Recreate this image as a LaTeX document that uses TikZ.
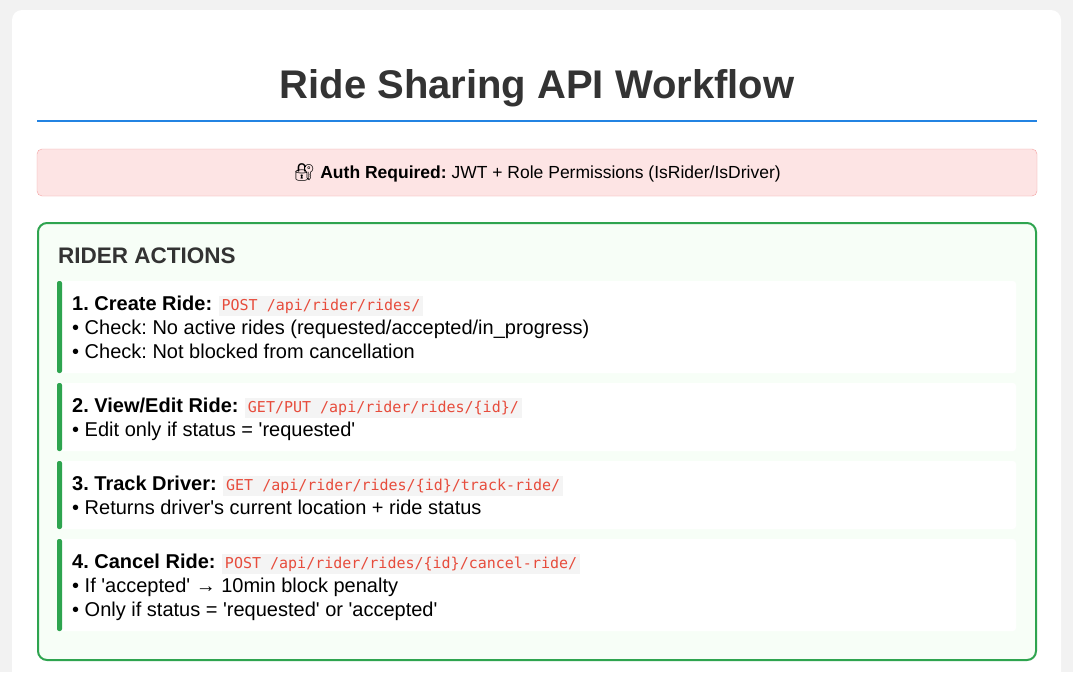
\documentclass[tikz,border=0pt]{standalone}
\usepackage{fontspec}
\setmainfont{Liberation Sans}
\setmonofont{DejaVu Sans Mono}
\newfontfamily\emojifont{Noto Emoji}
\usetikzlibrary{positioning}
\frenchspacing
\newcommand{\sq}{\textquotesingle}
\definecolor{pagegray}{HTML}{F2F2F2}
\definecolor{titletext}{HTML}{333333}
\definecolor{lineblue}{HTML}{2383E2}
\definecolor{authfill}{HTML}{FDE4E4}
\definecolor{authline}{HTML}{F4A3A3}
\definecolor{riderline}{HTML}{2EA44F}
\definecolor{riderfill}{HTML}{F7FEF7}
\definecolor{codered}{HTML}{E74C3C}
\definecolor{codefill}{HTML}{F4F4F4}
\tikzset{
  body/.style={anchor=base west, inner sep=0pt, font=\fontsize{20}{23}\selectfont},
  steptitle/.style={body, font=\fontsize{20}{23}\selectfont\bfseries},
  endpoint/.style={anchor=base west, fill=codefill, text=codered, inner xsep=3pt, inner ysep=2.5pt,
    font=\ttfamily\fontsize{15}{17}\selectfont},
  stepbox/.style={fill=white},
  stepbar/.style={fill=riderline}
}
\begin{document}
\begin{tikzpicture}[x=1pt,y=-1pt]
\useasboundingbox (0,0) rectangle (1073,672);
\fill[pagegray] (0,0) rectangle (1073,672);
\fill[white,rounded corners=10pt] (12,10) rectangle (1061,700);

% title
\node[font=\fontsize{40}{46}\selectfont\bfseries, text=titletext] (title) at (537,88) {Ride Sharing API Workflow};
\draw[lineblue, line width=2pt] (37,121) -- (1037,121);

% auth
\draw[authline, fill=authfill, rounded corners=5pt] (37,149) rectangle (1037,196);
\node[font=\fontsize{17.5}{20}\selectfont, inner sep=0pt] (auth) at (537,173)
  {{\emojifont 🔐} \textbf{Auth Required:} JWT + Role Permissions (IsRider/IsDriver)};

% rider panel
\draw[riderline, fill=riderfill, line width=2pt, rounded corners=9pt] (38,223) rectangle (1036,660);
\node[anchor=base west, inner sep=0pt, font=\fontsize{22.5}{26}\selectfont\bfseries, text=titletext] (rider) at (58,263) {RIDER ACTIONS};

% steps
\foreach \top/\bot in {281/373, 383/451, 461/529, 539/631}{
  \fill[stepbox, rounded corners=3pt] (57,\top) rectangle (1016,\bot);
  \fill[stepbar, rounded corners=2pt] (57,\top) rectangle (62,\bot);
}

\node[steptitle] (s1) at (72,310) {1. Create Ride:};
\node[endpoint, right=6pt of s1.base east, anchor=base west] (e1) {POST /api/rider/rides/};
\node[body] (s1a) at (72,334) {• Check: No active rides (requested/accepted/in\_progress)};
\node[body] (s1b) at (72,358) {• Check: Not blocked from cancellation};

\node[steptitle] (s2) at (72,412) {2. View/Edit Ride:};
\node[endpoint, right=6pt of s2.base east, anchor=base west] (e2) {GET/PUT /api/rider/rides/\{id\}/};
\node[body] (s2a) at (72,436) {• Edit only if status = \sq requested\sq};

\node[steptitle] (s3) at (72,490) {3. Track Driver:};
\node[endpoint, right=6pt of s3.base east, anchor=base west] (e3) {GET /api/rider/rides/\{id\}/track-ride/};
\node[body] (s3a) at (72,514) {• Returns driver\sq s current location + ride status};

\node[steptitle] (s4) at (72,568) {4. Cancel Ride:};
\node[endpoint, right=6pt of s4.base east, anchor=base west] (e4) {POST /api/rider/rides/\{id\}/cancel-ride/};
\node[body] (s4a) at (72,592) {• If \sq accepted\sq\ → 10min block penalty};
\node[body] (s4b) at (72,616) {• Only if status = \sq requested\sq\ or \sq accepted\sq};
\end{tikzpicture}
\end{document}
